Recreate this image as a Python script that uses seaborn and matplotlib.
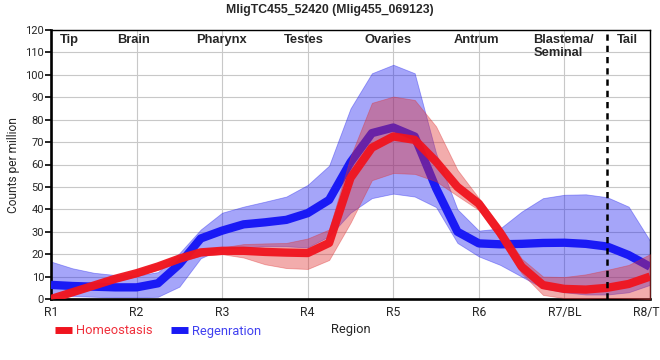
import numpy as np
import matplotlib
matplotlib.use("Agg")
import matplotlib.pyplot as plt
import seaborn as sns
from matplotlib.lines import Line2D

# ---------------- data ----------------
title = "MligTC455_52420 (Mlig455_069123)"
regions = ["R1", "R2", "R3", "R4", "R5", "R6", "R7/BL", "R8/TL"]
tissues = ["Tip", "Brain", "Pharynx", "Testes", "Ovaries", "Antrum", "Blastema/\nSeminal", "Tail"]
series_names = ["Homeostasis", "Regenration"]

# sample positions along the region axis (R1 = 0 ... R8 = 7, quarter steps)
pos = np.linspace(0, 7, 29)

homeo_mean = [0, 3, 6, 9, 11.5, 14.5, 18, 20.8, 21.5, 21.5, 21, 20.7, 20.5, 25,
              54, 67.5, 72.5, 71, 61.3, 50, 42.5, 29.5, 14.4, 6.2, 4.5, 4.2, 5, 6.7, 10]
homeo_low = [0, 1.8, 4.8, 7.7, 10.2, 13, 16.5, 19.3, 20, 18.5, 15.5, 13.8, 13.4, 17.4,
             34, 53, 56.2, 55.8, 52.5, 46, 39.7, 26.5, 11.5, 1.8, 0.4, 0.3, 0.5, 0.3, 0]
homeo_high = [1.2, 4.2, 7.2, 10.3, 12.8, 16, 19.5, 22.3, 23, 24.5, 24.8, 25, 27, 31,
              63.5, 87.5, 90.3, 88.8, 77, 57.6, 45, 32.5, 18, 10, 9.8, 11, 13, 15.2, 20]

regen_mean = [6.3, 5.8, 5.5, 5.2, 5.2, 7, 15.5, 27, 30.5, 33.3, 34.2, 35.3, 38.3, 44.2,
              61, 74, 76.5, 72.5, 49.4, 30, 24.8, 24.4, 24.6, 25, 25.1, 24.6, 23.4, 19.6, 14.4]
regen_low = [1.8, 1.3, 1, 0.7, 0.7, 1, 5.5, 18.2, 22.5, 23, 23.5, 23.5, 23, 28,
             38.5, 45, 47, 45.7, 41, 25, 19, 15.2, 10, 4.8, 3, 2, 2, 3, 6.3]
regen_high = [16.7, 13.7, 11.7, 10.7, 10.4, 12, 20.4, 31, 38.5, 41.2, 43.4, 45.7, 50.9, 59.5,
              85, 100.7, 104.5, 100.7, 65, 40, 30.5, 31.5, 39, 45, 46.5, 46.7, 45.4, 41.2, 26]

# ---------------- styling ----------------
RED_LINE = "#f0141e"
RED_BAND = "#e03030"
BLUE_LINE = "#1a1af5"
BLUE_BAND = "#2020f0"

sns.set_theme(style="white")
plt.rcParams["font.family"] = ["Roboto", "DejaVu Sans"]

fig = plt.figure(figsize=(6.6, 3.6), dpi=100)
ax = fig.add_axes([51 / 660, 1 - 299 / 360, 599 / 660, 269 / 360])

# bands and lines (blue first, red on top)
ax.fill_between(pos, regen_low, regen_high, facecolor=BLUE_BAND, alpha=0.4,
                edgecolor=BLUE_BAND, linewidth=0.6, zorder=2)
sns.lineplot(x=pos, y=regen_mean, ax=ax, color=BLUE_LINE, linewidth=6, sort=False,
             zorder=3, solid_capstyle="butt", solid_joinstyle="round")
ax.fill_between(pos, homeo_low, homeo_high, facecolor=RED_BAND, alpha=0.4,
                edgecolor=RED_BAND, linewidth=0.6, zorder=4)
sns.lineplot(x=pos, y=homeo_mean, ax=ax, color=RED_LINE, linewidth=6, alpha=0.95,
             sort=False, zorder=5, solid_capstyle="butt", solid_joinstyle="round")

# dashed separator between blastema and tail
ax.axvline(6.5, color="black", linewidth=1.8, linestyle=(0, (2.5, 2)), zorder=6)

ax.set_xlim(0, 7)
ax.set_ylim(0, 120)
ax.set_xticks(range(len(regions)))
ax.set_xticklabels(regions, fontsize=8.8)
ax.set_yticks(range(0, 121, 10))
ax.tick_params(axis="y", labelsize=8, length=4, width=1.2, pad=1, left=True, color="black")
ax.tick_params(axis="x", length=0, pad=5)
ax.grid(True, color="#c8c8c8", linewidth=0.8, zorder=0)
ax.set_axisbelow(True)
ax.set_xlabel("")
ax.set_ylabel("")

for side in ["left", "bottom"]:
    ax.spines[side].set_linewidth(1.9)
    ax.spines[side].set_color("black")
for side in ["top", "right"]:
    ax.spines[side].set_linewidth(1.0)
    ax.spines[side].set_color("black")

# tissue labels along the top
tissue_x = [0.21, 0.96, 1.99, 2.96, 3.94, 4.97, 5.64, 6.73]
for name, tx in zip(tissues, tissue_x):
    ax.text(tx, 118.3, name, ha="left" if "\n" in name else "center", va="top",
            fontsize=9.3, fontweight="bold", family="Liberation Sans",
            linespacing=1.1, zorder=7)

fig.text(0.5, 1 - 12.7 / 360, title, ha="center", va="baseline", fontsize=8.8,
         fontweight="bold", family="Liberation Sans")
fig.text(14 / 660, 1 - 165 / 360, "Counts per million", rotation=90, ha="center",
         va="center", fontsize=8.6)
fig.text(351 / 660, 1 - 330 / 360, "Region", ha="center", va="center", fontsize=9.3)

handles = [Line2D([0], [0], color=RED_LINE, lw=5, solid_capstyle="butt"),
           Line2D([0], [0], color=BLUE_LINE, lw=5, solid_capstyle="butt")]
fig.legend(handles, series_names, loc="center left", bbox_to_anchor=(55 / 660, 1 - 331 / 360),
           ncol=2, frameon=False, fontsize=9.3, handlelength=1.35, handletextpad=0.3,
           columnspacing=1.4, borderpad=0, borderaxespad=0,
           labelcolor=["#f0303c", "#4040f0"])

fig.savefig("out.png", dpi=100)
